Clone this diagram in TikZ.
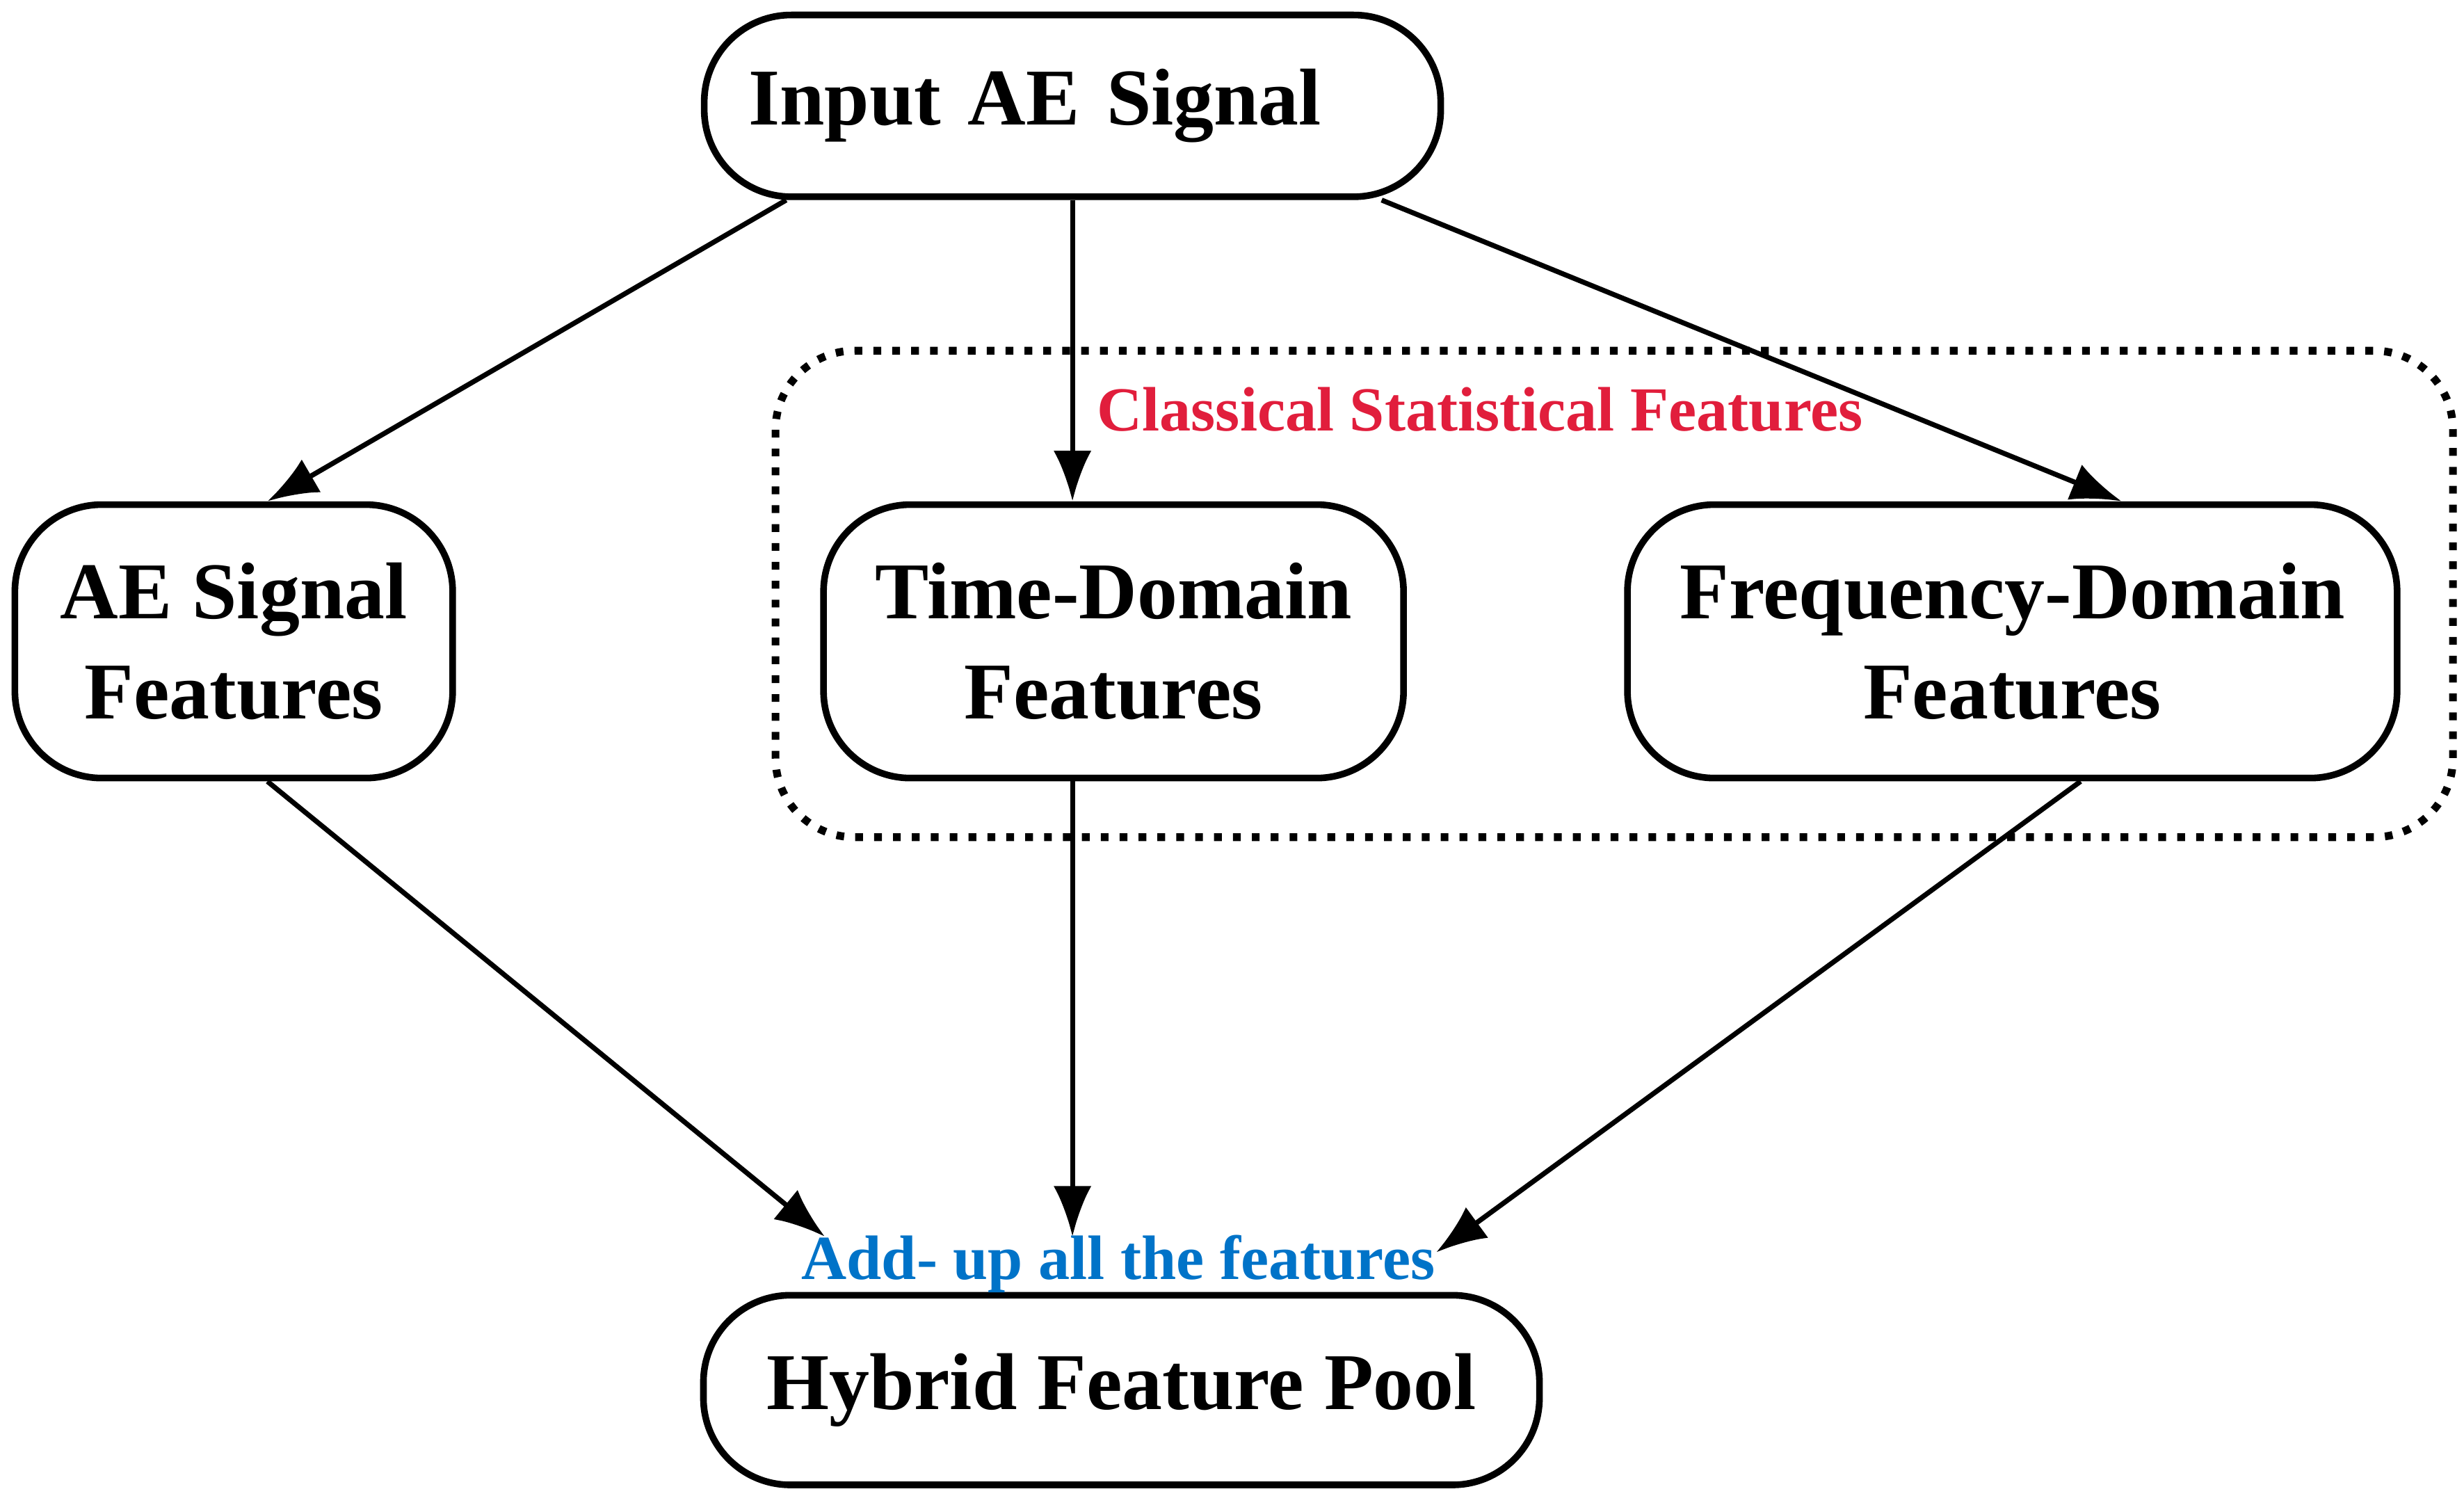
\documentclass[tikz,border=0pt]{standalone}
\usepackage{fontspec}
\setmainfont{Liberation Serif}
\usetikzlibrary{arrows.meta,calc}
\begin{document}
\begin{tikzpicture}[x=0.01cm,y=-0.01cm,
  box/.style={draw,line width=1.2pt,rounded corners=0.55cm,align=center,font=\fontsize{14.5}{18}\selectfont\bfseries,inner sep=0pt},
  arr/.style={line width=0.9pt,-{Latex[length=0.32cm,width=0.24cm]}}]
\useasboundingbox (0,0) rectangle (1560,947);
\draw[line width=1.4pt,dotted,rounded corners=0.5cm] (491,222) rectangle (1553,530);
\node[box,minimum width=4.66cm,minimum height=1.15cm,text width=4.1cm,align=left] (in) at (679,67) {Input AE Signal};
\node[box,minimum width=2.77cm,minimum height=1.73cm] (ae) at (148,406) {AE Signal\\Features};
\node[box,minimum width=3.67cm,minimum height=1.73cm] (td) at (705,406) {Time-Domain\\Features};
\node[box,minimum width=4.87cm,minimum height=1.73cm] (fd) at (1274,406) {Frequency-Domain\\Features};
\node[box,minimum width=5.29cm,minimum height=1.2cm] (hy) at (710,880) {Hybrid Feature Pool};
\node[text={rgb,255:red,225;green,30;blue,60},font=\fontsize{11.3}{14}\selectfont\bfseries] (cl) at (937,259) {Classical Statistical Features};
\node[text={rgb,255:red,0;green,115;blue,200},font=\fontsize{11.3}{14}\selectfont\bfseries] (add) at (708,800) {Add- up all the features};
\coordinate (tdb) at (td.south -| in.south);
\draw[arr] ($(in.south west)+(54,0)$) -- ($(ae.north west)+(162,0)$);
\draw[arr] (in.south) -- (in.south |- td.north);
\draw[arr] ($(in.south west)+(431,0)$) -- ($(fd.north west)+(315,0)$);
\draw[arr] ($(ae.south west)+(162,0)$) -- ($(hy.north west)+(79,-35)$);
\draw[arr] (tdb) -- ($(tdb |- hy.north)+(0,-35)$);
\draw[arr] ($(fd.south west)+(289,0)$) -- ($(hy.north west)+(466,-25)$);
\end{tikzpicture}
\end{document}
